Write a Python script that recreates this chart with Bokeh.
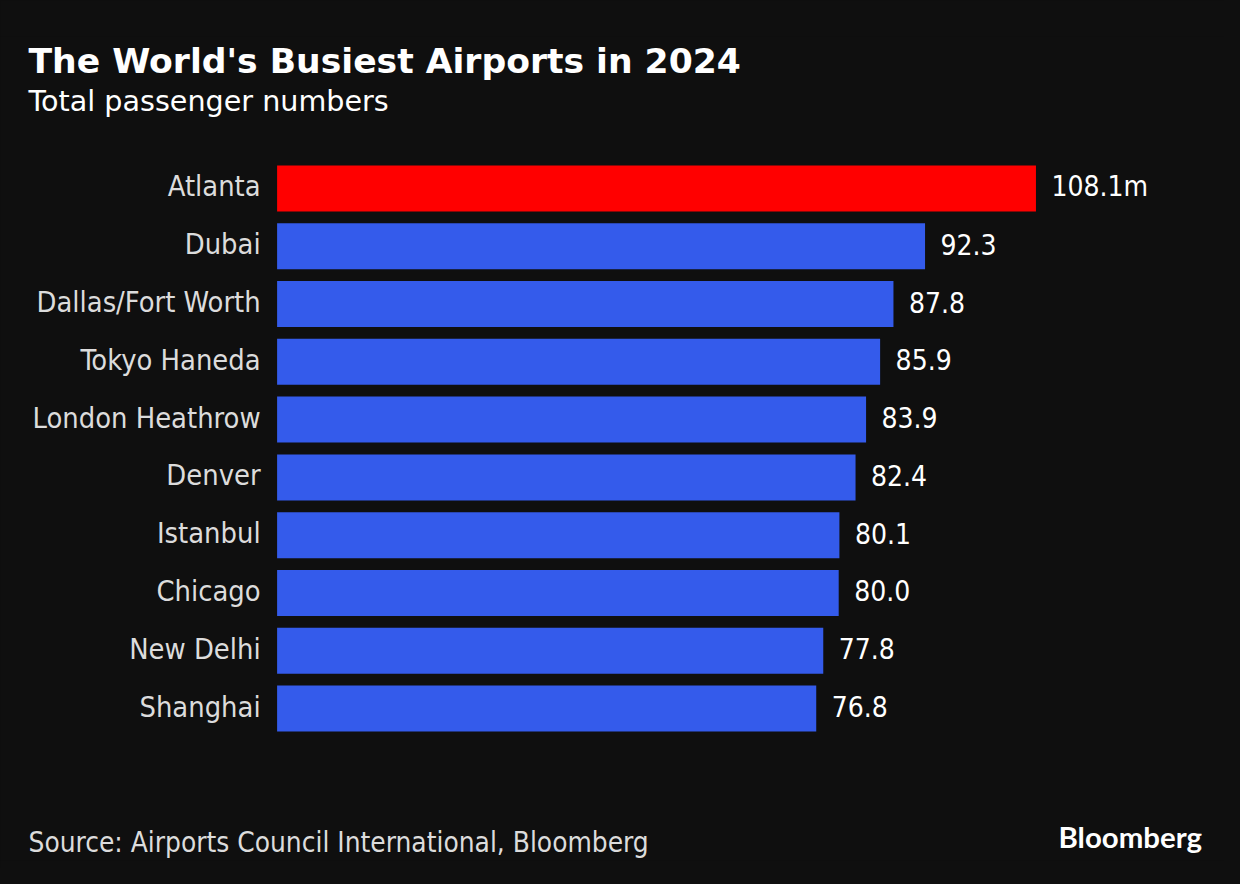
from bokeh.core.properties import value
from bokeh.embed import file_html
from bokeh.resources import INLINE
from bokeh.plotting import figure
from bokeh.models import ColumnDataSource, Label, GlobalInlineStyleSheet

TITLE = "The World's Busiest Airports in 2024"
SUBTITLE = "Total passenger numbers"
SOURCE = "Source: Airports Council International, Bloomberg"
BRAND = "Bloomberg"
cities = ["Atlanta", "Dubai", "Dallas/Fort Worth", "Tokyo Haneda", "London Heathrow",
          "Denver", "Istanbul", "Chicago", "New Delhi", "Shanghai"]
passengers = [108.1, 92.3, 87.8, 85.9, 83.9, 82.4, 80.1, 80.0, 77.8, 76.8]
value_labels = ["108.1m", "92.3", "87.8", "85.9", "83.9", "82.4", "80.1", "80.0", "77.8", "76.8"]
bar_colors = ["#ff0000"] + ["#345beb"] * 9

BG = "#0f0f0f"
FONT = "DejaVu Sans Condensed"

W, H = 1224, 868
TOP, BOTTOM = 36, 860      # frame spans these page rows, centred on the bars
ZERO_PX, PX_PER_UNIT, PITCH = 276.6, 7.02, 57.78

source = ColumnDataSource(dict(city=cities, value=passengers, label=value_labels, color=bar_colors,
                               zero=[0] * len(cities)))

p = figure(width=W, height=H, output_backend="svg", toolbar_location=None,
           y_range=list(reversed(cities)),
           x_range=(-ZERO_PX / PX_PER_UNIT, (W - ZERO_PX) / PX_PER_UNIT),
           x_axis_location=None, y_axis_location=None,
           background_fill_color=BG, border_fill_color=BG, outline_line_color=None,
           min_border_left=0, min_border_right=0,
           min_border_top=TOP, min_border_bottom=H - BOTTOM)
p.stylesheets = [GlobalInlineStyleSheet(css=f"html,body{{background:{BG};margin:0;}}")]
p.y_range.factor_padding = 0
p.y_range.range_padding_units = "absolute"
p.y_range.range_padding = ((BOTTOM - TOP) / PITCH - len(cities)) / 2
p.grid.visible = False

p.hbar(y="city", left=0, right="value", height=0.796, color="color", line_color=None, source=source)
p.text(x="zero", y="city", text="city", x_offset=-16.5, y_offset=-2, text_baseline="middle", text_align="right",
       text_color="#dcdcdc", text_font=value(FONT), text_font_size="28.8px", source=source)
p.text(x="value", y="city", text="label", x_offset=15.5, y_offset=-2, text_baseline="middle", text_align="left",
       text_color="#ffffff", text_font=value(FONT), text_font_size="28px", source=source)

def put(text, x, y, size, color, style="normal", font=FONT):
    p.add_layout(Label(x=x, y=BOTTOM - y, x_units="screen", y_units="screen", text=text,
                       text_color=color, text_font=font, text_font_size=size,
                       text_font_style=style, text_baseline="alphabetic"))

put(TITLE, 28, 60, "34.6px", "#ffffff", "bold", "DejaVu Sans")
put(SUBTITLE, 28, 100, "28.6px", "#ffffff", "normal", "DejaVu Sans")
put(SOURCE, 28, 842, "27.8px", "#dcdcdc")
put(BRAND, 1058, 836, "29.4px", "#ffffff", "bold", "Lato")

open("out.html", "w").write(file_html(p, INLINE))
